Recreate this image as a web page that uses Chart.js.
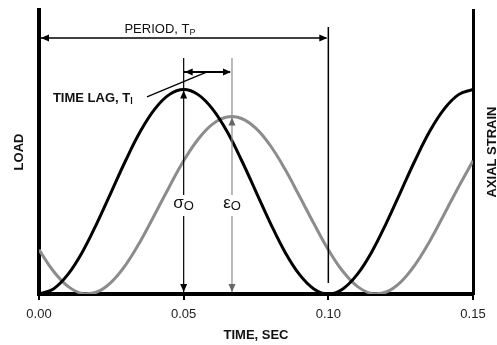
<!DOCTYPE html>
<html>
<head>
<meta charset="utf-8">
<script src="https://cdn.jsdelivr.net/npm/chart.js@4.4.0/dist/chart.umd.min.js"></script>
<style>
  html, body { margin: 0; padding: 0; background: #fff; }
</style>
</head>
<body>
<canvas id="cyclic" width="497" height="345"></canvas>
<script>
'use strict';

// time axis, sec
const times = [
  0.000, 0.005, 0.010, 0.015, 0.020, 0.025, 0.030, 0.035, 0.040, 0.045,
  0.050, 0.055, 0.060, 0.065, 0.070, 0.075, 0.080, 0.085, 0.090, 0.095,
  0.100, 0.105, 0.110, 0.115, 0.120, 0.125, 0.130, 0.135, 0.140, 0.145,
  0.150
];

// load (left axis, relative height)
const loadValues = [
  0.000, 0.018, 0.069, 0.148, 0.249, 0.360, 0.471, 0.572, 0.651, 0.702,
  0.720, 0.702, 0.651, 0.572, 0.471, 0.360, 0.249, 0.148, 0.069, 0.018,
  0.000, 0.018, 0.069, 0.148, 0.249, 0.360, 0.471, 0.572, 0.651, 0.702,
  0.720
];

// axial strain (right axis, relative height)
const strainValues = [
  0.156, 0.080, 0.027, 0.002, 0.007, 0.042, 0.103, 0.185, 0.280, 0.377,
  0.469, 0.545, 0.598, 0.623, 0.618, 0.583, 0.522, 0.440, 0.345, 0.248,
  0.156, 0.080, 0.027, 0.002, 0.007, 0.042, 0.103, 0.185, 0.280, 0.377,
  0.469
];

const xTicks = [0.00, 0.05, 0.10, 0.15];

const FONT = 'Liberation Sans, Arial, sans-serif';

function arrowHead(ctx, x, y, dir, color) {
  // dir: 'up' | 'down' | 'left' | 'right', tip at (x, y)
  const len = 8, half = 3.5;
  ctx.fillStyle = color;
  ctx.beginPath();
  ctx.moveTo(x, y);
  if (dir === 'up') { ctx.lineTo(x - half, y + len); ctx.lineTo(x + half, y + len); }
  if (dir === 'down') { ctx.lineTo(x - half, y - len); ctx.lineTo(x + half, y - len); }
  if (dir === 'left') { ctx.lineTo(x + len, y - half); ctx.lineTo(x + len, y + half); }
  if (dir === 'right') { ctx.lineTo(x - len, y - half); ctx.lineTo(x - len, y + half); }
  ctx.closePath();
  ctx.fill();
}

function line(ctx, x1, y1, x2, y2, color, width) {
  ctx.strokeStyle = color;
  ctx.lineWidth = width;
  ctx.beginPath();
  ctx.moveTo(x1, y1);
  ctx.lineTo(x2, y2);
  ctx.stroke();
}

// text with a subscript, left edge (or centre) at x, vertical middle at y
function subText(ctx, main, sub, x, y, mainFont, subFont, color, align) {
  ctx.fillStyle = color;
  ctx.textBaseline = 'middle';
  ctx.textAlign = 'left';
  ctx.font = mainFont;
  const w1 = ctx.measureText(main).width;
  ctx.font = subFont;
  const w2 = ctx.measureText(sub).width;
  let x0 = x;
  if (align === 'center') x0 = x - (w1 + w2) / 2;
  ctx.font = mainFont;
  ctx.fillText(main, x0, y);
  ctx.font = subFont;
  ctx.fillText(sub, x0 + w1, y + 3);
}

const notes = {
  id: 'notes',
  afterDatasetsDraw(chart) {
    const ctx = chart.ctx;
    const xs = chart.scales.x;
    const ys = chart.scales.y;
    const px = v => xs.getPixelForValue(v);
    const py = v => ys.getPixelForValue(v);
    const black = '#000';
    const gray = '#8c8c8c';
    ctx.save();

    // period arrow
    const yPer = py(0.901);
    line(ctx, px(0) + 2, yPer, px(0.10) - 2, yPer, black, 1.5);
    arrowHead(ctx, px(0) + 2, yPer, 'left', black);
    arrowHead(ctx, px(0.10) - 1, yPer, 'right', black);
    line(ctx, px(0.10), py(0.94), px(0.10), py(0.039), black, 1.5);
    subText(ctx, 'PERIOD, T', 'P', px(0.0418), py(0.933),
      '13px ' + FONT, '9px ' + FONT, '#111', 'center');

    // time lag
    const xa = px(0.05), xb = px(0.0667);
    const yLag = py(0.782);
    line(ctx, xa, yLag, xb - 2, yLag, black, 2);
    arrowHead(ctx, xa + 1, yLag, 'left', black);
    arrowHead(ctx, xb - 1, yLag, 'right', black);
    subText(ctx, 'TIME LAG, T', 'l', px(0.0048), py(0.690),
      'bold 13px ' + FONT, 'bold 9px ' + FONT, '#111', 'left');
    line(ctx, px(0.0373), py(0.694), px(0.0581), py(0.782), black, 1.2);

    // sigma_O marker
    line(ctx, xa, py(0.831), xa, py(0.349), black, 1.2);
    line(ctx, xa, py(0.275), xa, py(0) - 2, black, 1.2);
    arrowHead(ctx, xa, py(0.720) + 1, 'up', black);
    arrowHead(ctx, xa, py(0) - 2, 'down', black);
    subText(ctx, 'σ', 'O', xa, py(0.320),
      '17px ' + FONT, '13px ' + FONT, '#111', 'center');

    // epsilon_O marker
    line(ctx, xb, py(0.831), xb, py(0.349), gray, 1.2);
    line(ctx, xb, py(0.275), xb, py(0) - 2, gray, 1.2);
    arrowHead(ctx, xb, py(0.625) + 1, 'up', '#666');
    arrowHead(ctx, xb, py(0) - 2, 'down', '#666');
    subText(ctx, 'ε', 'O', xb, py(0.320),
      '17px ' + FONT, '13px ' + FONT, '#111', 'center');

    // right axis title, reads bottom to top like the left one
    const ys2 = chart.scales.y2;
    ctx.translate(ys2.left + 19, (ys2.top + ys2.bottom) / 2);
    ctx.rotate(-Math.PI / 2);
    ctx.font = 'bold 13px ' + FONT;
    ctx.fillStyle = '#111';
    ctx.textAlign = 'center';
    ctx.textBaseline = 'middle';
    ctx.fillText('AXIAL STRAIN', 0, 0);

    ctx.restore();
  }
};

const ctx = document.getElementById('cyclic').getContext('2d');

new Chart(ctx, {
  type: 'line',
  data: {
    datasets: [
      {
        label: 'LOAD',
        data: times.map((t, i) => ({ x: t, y: loadValues[i] })),
        borderColor: '#000',
        borderWidth: 3,
        pointRadius: 0,
        tension: 0.4,
        fill: false,
        yAxisID: 'y',
      },
      {
        label: 'AXIAL STRAIN',
        data: times.map((t, i) => ({ x: t, y: strainValues[i] })),
        borderColor: '#8c8c8c',
        borderWidth: 3,
        pointRadius: 0,
        tension: 0.4,
        fill: false,
        yAxisID: 'y2',
      },
    ],
  },
  options: {
    responsive: false,
    animation: false,
    devicePixelRatio: 1,
    layout: { padding: { top: 10, left: 0, right: 0, bottom: 0 } },
    plugins: {
      legend: { display: false },
      tooltip: { enabled: false },
    },
    scales: {
      x: {
        type: 'linear',
        position: 'bottom',
        min: 0,
        max: 0.15,
        afterBuildTicks: s => { s.ticks = xTicks.map(v => ({ value: v })); },
        afterFit: s => { s.height = 51; },
        border: { display: true, color: '#000', width: 4 },
        grid: { display: true, drawOnChartArea: false, drawTicks: true, tickLength: 6, color: '#000', lineWidth: 2 },
        ticks: {
          color: '#222',
          font: { family: FONT, size: 13 },
          padding: 7,
          maxRotation: 0,
          callback: v => Number(v).toFixed(2),
        },
        title: {
          display: true,
          text: 'TIME, SEC',
          color: '#111',
          font: { family: FONT, size: 13, weight: 'bold' },
          padding: { top: 0, bottom: 2 },
        },
      },
      y: {
        position: 'left',
        min: 0,
        max: 1,
        afterFit: s => { s.width = 39; },
        border: { display: true, color: '#000', width: 4 },
        grid: { display: false },
        ticks: { display: false },
        title: {
          display: true,
          text: 'LOAD',
          color: '#111',
          font: { family: FONT, size: 13, weight: 'bold' },
          padding: { top: 12, bottom: 0 },
        },
      },
      y2: {
        position: 'right',
        min: 0,
        max: 1,
        afterFit: s => { s.width = 24; },
        border: { display: true, color: '#000', width: 3 },
        grid: { display: false },
        ticks: { display: false },
      },
    },
  },
  plugins: [notes],
});
</script>
</body>
</html>
